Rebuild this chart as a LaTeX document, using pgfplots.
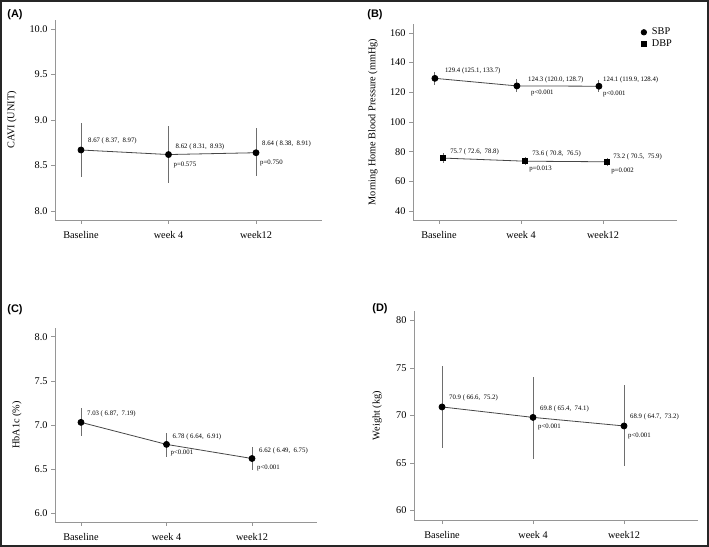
\documentclass[border=0pt]{standalone}
\usepackage{fontspec}
\setmainfont{Liberation Serif}
\newfontfamily\panelfont{Liberation Sans}
\usepackage{pgfplots}
\usepackage{pgfplotstable}
\pgfplotsset{compat=1.18}
\definecolor{axgray}{RGB}{150,150,150}
\definecolor{ebgray}{RGB}{110,110,110}
\definecolor{lngray}{RGB}{70,70,70}

% x = category index, y = mean, lo/hi = 95% CI
\pgfplotstableread{
x y lo hi
0 8.67 8.37 8.97
1 8.62 8.31 8.93
2 8.64 8.38 8.91
}\cavi
\pgfplotstableread{
x y lo hi
-0.05 129.4 125.1 133.7
0.95 124.3 120.0 128.7
1.95 124.1 119.9 128.4
}\sbp
\pgfplotstableread{
x y lo hi
0.05 75.7 72.6 78.8
1.05 73.6 70.8 76.5
2.05 73.2 70.5 75.9
}\dbp
\pgfplotstableread{
x y lo hi
0 7.03 6.87 7.19
1 6.78 6.64 6.91
2 6.62 6.49 6.75
}\hba
\pgfplotstableread{
x y lo hi
0 70.9 66.6 75.2
1 69.8 65.4 74.1
2 68.9 64.7 73.2
}\wt

\tikzset{lab/.style={anchor=west, inner sep=0pt, font=\fontsize{6.8}{8}\selectfont}}
\pgfplotsset{
  panel/.style={
    scale only axis, anchor=south west,
    axis lines=left, axis line style={-, draw=axgray, line width=0.9bp},
    tick style={draw=axgray, line width=0.8bp},
    tick align=outside, major tick length=4bp,
    xtick={0,1,2}, xticklabels={Baseline,week 4,week12},
    ticklabel style={font=\fontsize{10.3}{12}\selectfont},
    xticklabel style={yshift=-4bp},
    label style={font=\fontsize{10.3}{12}\selectfont},
    /pgf/number format/assume math mode=true,
    clip=false,
  },
  onedec/.style={yticklabel style={/pgf/number format/.cd, fixed, fixed zerofill, precision=1}},
  ci/.style={forget plot, draw=none, mark=none,
    error bars/.cd, y dir=both, y explicit,
    error bar style={draw=ebgray, line width=0.9bp}, error mark=none},
  mean/.style={lngray, line width=0.8bp, mark=*, mark size=3bp,
    mark options={fill=black, draw=black}},
}

\begin{document}
\begin{tikzpicture}
\useasboundingbox (0,0) rectangle (709bp,547bp);
\draw[line width=2bp, black!85] (1bp,1bp) rectangle (708bp,546bp);

% ---------- (A) ----------
\begin{axis}[panel, onedec, at={(55bp,327bp)}, width=267bp, height=200bp,
  xmin=-0.297, xmax=2.754, ymin=7.9, ymax=10.1, ytick={8,8.5,9,9.5,10},
  ylabel={CAVI (UNIT)}, ylabel style={at={(axis description cs:-0.161,0.5)}, anchor=center}]
\addplot[ci] table[x=x, y=y, y error plus expr=\thisrow{hi}-\thisrow{y}, y error minus expr=\thisrow{y}-\thisrow{lo}] {\cavi};
\addplot[mean] table[x=x, y=y] {\cavi};
\node[lab, xshift=7bp, yshift=9bp] at (axis cs:0,8.67) {8.67 ( 8.37,\ \ 8.97)};
\node[lab, xshift=7bp, yshift=8bp] at (axis cs:1,8.62) {8.62 ( 8.31,\ \ 8.93)};
\node[lab, xshift=6bp, yshift=9bp] at (axis cs:2,8.64) {8.64 ( 8.38,\ \ 8.91)};
\node[lab, xshift=5bp, yshift=-10bp] at (axis cs:1,8.62) {p=0.575};
\node[lab, xshift=4bp, yshift=-10bp] at (axis cs:2,8.64) {p=0.750};
\end{axis}

% ---------- (B) ----------
\begin{axis}[panel, at={(413bp,327bp)}, width=264bp, height=196bp,
  xmin=-0.317, xmax=2.902, ymin=34, ymax=166, ytick={40,60,...,160},
  ylabel={Morning Home Blood Pressure (mmHg)}, ylabel style={at={(axis description cs:-0.152,0.5)}, anchor=center},
  legend style={at={(axis description cs:0.862,0.99)}, anchor=north west, draw=none, fill=none,
    font=\fontsize{10.3}{12}\selectfont, inner sep=0pt, row sep=-1bp,
    /tikz/every odd column/.append style={column sep=3bp}},
  legend cell align=left]
\addplot[ci] table[x=x, y=y, y error plus expr=\thisrow{hi}-\thisrow{y}, y error minus expr=\thisrow{y}-\thisrow{lo}] {\sbp};
\addplot[ci] table[x=x, y=y, y error plus expr=\thisrow{hi}-\thisrow{y}, y error minus expr=\thisrow{y}-\thisrow{lo}] {\dbp};
\addplot[mean, legend image code/.code={\fill[black] (0bp,0bp) circle (2.7bp);}] table[x=x, y=y] {\sbp};
\addlegendentry{SBP}
\addplot[mean, mark=square*, mark size=2.6bp, legend image code/.code={\fill[black] (-2.5bp,-2.5bp) rectangle (2.5bp,2.5bp);}] table[x=x, y=y] {\dbp};
\addlegendentry{DBP}
\node[lab, xshift=10bp, yshift=7bp] at (axis cs:-0.05,129.4) {129.4 (125.1, 133.7)};
\node[lab, xshift=11bp, yshift=6bp] at (axis cs:0.95,124.3) {124.3 (120.0, 128.7)};
\node[lab, xshift=4bp, yshift=6bp] at (axis cs:1.95,124.1) {124.1 (119.9, 128.4)};
\node[lab, xshift=14bp, yshift=-7bp] at (axis cs:0.95,124.3) {p<0.001};
\node[lab, xshift=4bp, yshift=-8bp] at (axis cs:1.95,124.1) {p<0.001};
\node[lab, xshift=7bp, yshift=6bp] at (axis cs:0.05,75.7) {75.7 ( 72.6,\ \ 78.8)};
\node[lab, xshift=7bp, yshift=7bp] at (axis cs:1.05,73.6) {73.6 ( 70.8,\ \ 76.5)};
\node[lab, xshift=6bp, yshift=5bp] at (axis cs:2.05,73.2) {73.2 ( 70.5,\ \ 75.9)};
\node[lab, xshift=4bp, yshift=-8bp] at (axis cs:1.05,73.6) {p=0.013};
\node[lab, xshift=4bp, yshift=-9bp] at (axis cs:2.05,73.2) {p=0.002};
\end{axis}

% ---------- (C) ----------
\begin{axis}[panel, onedec, at={(55bp,25bp)}, width=262bp, height=194bp,
  xmin=-0.304, xmax=2.76, ymin=5.9, ymax=8.1, ytick={6,6.5,7,7.5,8},
  ylabel={HbA1c (\%)}, ylabel style={at={(axis description cs:-0.145,0.5)}, anchor=center}]
\addplot[ci] table[x=x, y=y, y error plus expr=\thisrow{hi}-\thisrow{y}, y error minus expr=\thisrow{y}-\thisrow{lo}] {\hba};
\addplot[mean] table[x=x, y=y] {\hba};
\node[lab, xshift=6bp, yshift=8bp] at (axis cs:0,7.03) {7.03 ( 6.87,\ \ 7.19)};
\node[lab, xshift=6bp, yshift=8bp] at (axis cs:1,6.78) {6.78 ( 6.64,\ \ 6.91)};
\node[lab, xshift=7bp, yshift=8bp] at (axis cs:2,6.62) {6.62 ( 6.49,\ \ 6.75)};
\node[lab, xshift=4bp, yshift=-9bp] at (axis cs:1,6.78) {p<0.001};
\node[lab, xshift=5bp, yshift=-9bp] at (axis cs:2,6.62) {p<0.001};
\end{axis}

% ---------- (D) ----------
\begin{axis}[panel, at={(414bp,27bp)}, width=284bp, height=209bp,
  xmin=-0.308, xmax=2.813, ymin=59, ymax=81, ytick={60,65,70,75,80},
  ylabel={Weight (kg)}, ylabel style={at={(axis description cs:-0.130,0.5)}, anchor=center}]
\addplot[ci] table[x=x, y=y, y error plus expr=\thisrow{hi}-\thisrow{y}, y error minus expr=\thisrow{y}-\thisrow{lo}] {\wt};
\addplot[mean] table[x=x, y=y] {\wt};
\node[lab, xshift=7bp, yshift=9bp] at (axis cs:0,70.9) {70.9 ( 66.6,\ \ 75.2)};
\node[lab, xshift=7bp, yshift=9bp] at (axis cs:1,69.8) {69.8 ( 65.4,\ \ 74.1)};
\node[lab, xshift=6bp, yshift=9bp] at (axis cs:2,68.9) {68.9 ( 64.7,\ \ 73.2)};
\node[lab, xshift=5bp, yshift=-10bp] at (axis cs:1,69.8) {p<0.001};
\node[lab, xshift=4bp, yshift=-10bp] at (axis cs:2,68.9) {p<0.001};
\end{axis}

\node[font={\panelfont\bfseries\fontsize{11}{13}\selectfont}] at (15bp,532bp) {(A)};
\node[font={\panelfont\bfseries\fontsize{11}{13}\selectfont}] at (375bp,532bp) {(B)};
\node[font={\panelfont\bfseries\fontsize{11}{13}\selectfont}] at (15bp,237bp) {(C)};
\node[font={\panelfont\bfseries\fontsize{11}{13}\selectfont}] at (380bp,238bp) {(D)};
\end{tikzpicture}
\end{document}
